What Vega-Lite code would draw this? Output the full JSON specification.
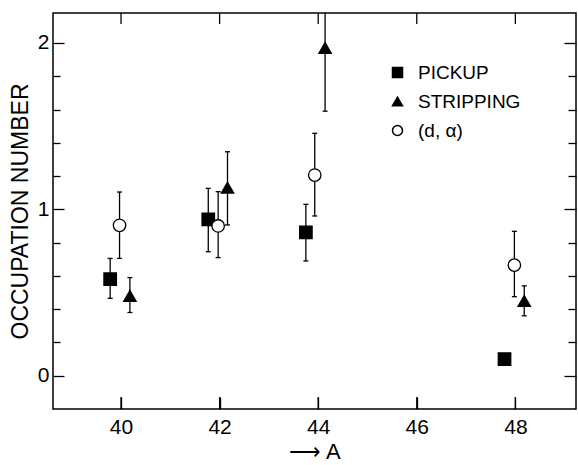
{
  "$schema": "https://vega.github.io/schema/vega-lite/v6.json",
  "width": 523,
  "height": 396,
  "autosize": {"type": "none"},
  "padding": {"left": 53, "top": 13, "right": 2, "bottom": 56},
  "background": "white",
  "datasets": {
    "points": [
      {"series": "PICKUP", "A": 39.78, "v": 0.58, "lo": 0.465, "hi": 0.705},
      {"series": "PICKUP", "A": 41.77, "v": 0.94, "lo": 0.745, "hi": 1.126},
      {"series": "PICKUP", "A": 43.75, "v": 0.862, "lo": 0.69, "hi": 1.03},
      {"series": "PICKUP", "A": 47.78, "v": 0.10, "lo": null, "hi": null},
      {"series": "STRIPPING", "A": 40.18, "v": 0.48, "lo": 0.38, "hi": 0.59},
      {"series": "STRIPPING", "A": 42.16, "v": 1.13, "lo": 0.906, "hi": 1.346},
      {"series": "STRIPPING", "A": 44.14, "v": 1.97, "lo": 1.59, "hi": 2.3},
      {"series": "STRIPPING", "A": 48.18, "v": 0.45, "lo": 0.36, "hi": 0.54},
      {"series": "(d, α)", "A": 39.97, "v": 0.904, "lo": 0.705, "hi": 1.104},
      {"series": "(d, α)", "A": 41.97, "v": 0.90, "lo": 0.71, "hi": 1.106},
      {"series": "(d, α)", "A": 43.93, "v": 1.206, "lo": 0.96, "hi": 1.457},
      {"series": "(d, α)", "A": 47.98, "v": 0.665, "lo": 0.475, "hi": 0.868}
    ],
    "xticks": [{"A": 40}, {"A": 42}, {"A": 44}, {"A": 46}, {"A": 48}]
  },
  "data": {"name": "points"},
  "config": {
    "view": {"stroke": "black", "strokeWidth": 1.5},
    "axis": {
      "domain": false,
      "grid": false,
      "ticks": true,
      "tickColor": "black",
      "tickWidth": 1.3,
      "labelColor": "black",
      "labelFont": "Liberation Sans",
      "labelFontSize": 21,
      "titleColor": "black",
      "titleFont": "Liberation Sans",
      "titleFontSize": 22,
      "titleFontWeight": "normal"
    }
  },
  "resolve": {"axis": {"x": "independent", "y": "independent"}},
  "layer": [
    {
      "mark": {"type": "rule", "color": "black", "strokeWidth": 1.3, "clip": true},
      "encoding": {
        "x": {"field": "A", "type": "quantitative",
              "scale": {"domain": [38.62, 49.23], "nice": false, "zero": false},
              "axis": {"orient": "bottom", "values": [40, 42, 44, 46, 48], "tickSize": -12,
                       "labelPadding": 19, "title": "⟶ A", "titlePadding": 4}},
        "y": {"field": "lo", "type": "quantitative",
              "scale": {"domain": [-0.2, 2.18], "nice": false, "zero": false},
              "axis": {"orient": "left", "values": [0, 1, 2], "tickSize": -11,
                       "labelPadding": 15, "title": "OCCUPATION NUMBER", "titleFontSize": 23, "titlePadding": 5}},
        "y2": {"field": "hi"}
      }
    },
    {
      "mark": {"type": "point", "shape": "stroke", "stroke": "black", "size": 25, "strokeWidth": 1.3, "opacity": 1, "clip": true},
      "encoding": {
        "x": {"field": "A", "type": "quantitative", "axis": null},
        "y": {"field": "lo", "type": "quantitative",
              "axis": {"orient": "left", "values": [0.2, 0.4, 0.6, 0.8, 1.2, 1.4, 1.6, 1.8],
                       "tickSize": -7, "labels": false, "title": null}}
      }
    },
    {
      "mark": {"type": "point", "shape": "stroke", "stroke": "black", "size": 25, "strokeWidth": 1.3, "opacity": 1, "clip": true},
      "encoding": {
        "x": {"field": "A", "type": "quantitative", "axis": null},
        "y": {"field": "hi", "type": "quantitative",
              "axis": {"orient": "right", "values": [0, 1, 2], "tickSize": -12,
                       "labels": false, "title": null}}
      }
    },
    {
      "data": {"name": "xticks"},
      "mark": {"type": "rule", "color": "black", "strokeWidth": 1.3},
      "encoding": {
        "x": {"field": "A", "type": "quantitative", "axis": null},
        "y": {"datum": -0.2, "type": "quantitative", "axis": null},
        "y2": {"datum": -0.128}
      }
    },
    {
      "data": {"name": "xticks"},
      "mark": {"type": "rule", "color": "black", "strokeWidth": 1.3},
      "encoding": {
        "x": {"field": "A", "type": "quantitative", "axis": null},
        "y": {"datum": 2.18, "type": "quantitative", "axis": null},
        "y2": {"datum": 2.114}
      }
    },
    {
      "mark": {"type": "point", "stroke": "black", "strokeWidth": 1.3, "opacity": 1, "size": 155},
      "encoding": {
        "x": {"field": "A", "type": "quantitative", "axis": null},
        "y": {"field": "v", "type": "quantitative",
              "axis": {"orient": "right", "values": [0.2, 0.4, 0.6, 0.8, 1.2, 1.4, 1.6, 1.8],
                       "tickSize": -8, "labels": false, "title": null}},
        "shape": {"field": "series", "type": "nominal",
                  "scale": {"domain": ["PICKUP", "STRIPPING", "(d, α)"], "range": ["square", "triangle-up", "circle"]},
                  "legend": {"title": null, "orient": "none", "legendX": 335, "legendY": 50,
                             "labelFont": "Liberation Sans", "labelFontSize": 19, "labelColor": "black",
                             "symbolSize": 100, "rowPadding": 9, "labelOffset": 11,
                             "encode": {"symbols": {"update": {"stroke": {"value": "black"}, "strokeWidth": {"value": 1.2}}}}}},
        "fill": {"field": "series", "type": "nominal",
                 "scale": {"domain": ["PICKUP", "STRIPPING", "(d, α)"], "range": ["black", "black", "white"]}}
      }
    }
  ]
}
